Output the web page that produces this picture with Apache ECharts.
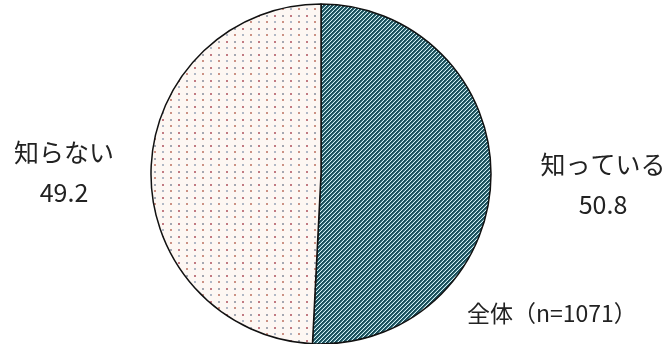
<!DOCTYPE html>
<html>
<head>
<meta charset="utf-8">
<script src="https://cdn.jsdelivr.net/npm/echarts@6/dist/echarts.min.js"></script>
<style>html,body{margin:0;padding:0;background:#fff;}#c{width:670px;height:344px;}</style>
</head>
<body>
<div id="c"></div>
<script>
const categories = ['知っている', '知らない'];
const values = [50.8, 49.2];
const note = '全体（n=1071）';

function stripeTile() {
  const c = document.createElement('canvas');
  c.width = 4; c.height = 4;
  const g = c.getContext('2d');
  g.fillStyle = '#d4f2f6'; g.fillRect(0, 0, 4, 4);
  for (let y = 0; y < 4; y++) for (let x = 0; x < 4; x++) {
    const k = (x + y) % 4;
    if (k === 0 || k === 1) { g.fillStyle = '#1b4f5b'; g.fillRect(x, y, 1, 1); }
    else if (k === 2) { g.fillStyle = '#3f7884'; g.fillRect(x, y, 1, 1); }
  }
  return c;
}
function dotTile() {
  const c = document.createElement('canvas');
  c.width = 16; c.height = 13;
  const g = c.getContext('2d');
  g.fillStyle = '#fdf7f3'; g.fillRect(0, 0, 16, 13);
  const dots = [[2, 2, '#c27a82'], [10, 2, '#a4a8b2'], [2, 8, '#b0b8c6'], [10, 8, '#cc9184']];
  dots.forEach(d => { g.fillStyle = d[2]; g.fillRect(d[0], d[1], 2, 2); });
  return c;
}

const chart = echarts.init(document.getElementById('c'));
const fonts = '"Noto Sans CJK JP", "Noto Sans", sans-serif';
chart.setOption({
  animation: false,
  series: [{
    type: 'pie',
    center: [321, 174],
    radius: 170,
    startAngle: 90,
    clockwise: true,
    data: categories.map((n, i) => ({
      name: n, value: values[i],
      itemStyle: { color: { image: i === 0 ? stripeTile() : dotTile(), repeat: 'repeat' } }
    })),
    itemStyle: { borderColor: '#111', borderWidth: 1.5 },
    label: {
      show: true, position: 'outside', overflow: 'none', width: 200,
      formatter: p => p.name + '\n' + p.value.toFixed(1),
      fontSize: 25, lineHeight: 40, color: '#222', fontFamily: fonts, align: 'center'
    },
    labelLine: { show: false },
    labelLayout: p => p.dataIndex === 0
      ? { x: 603, y: 184, align: 'center', verticalAlign: 'middle' }
      : { x: 64, y: 172, align: 'center', verticalAlign: 'middle' },
    emphasis: { disabled: true }
  }],
  graphic: [{
    type: 'text', left: 467, top: 302,
    style: { text: note, fontSize: 23, fill: '#222', fontFamily: fonts }
  }]
});
</script>
</body>
</html>
